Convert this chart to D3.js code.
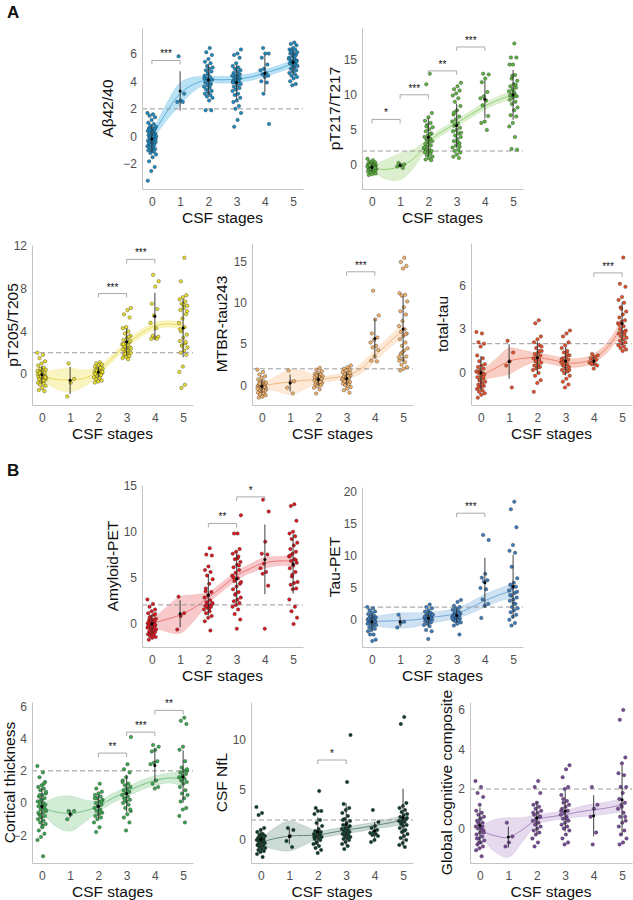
<!DOCTYPE html>
<html>
<head>
<meta charset="utf-8">
<script src="https://cdn.jsdelivr.net/npm/d3@7"></script>
<style>
  body { margin: 0; background: #fff; }
  svg { display: block; font-family: "Liberation Sans", Arial, sans-serif; }
</style>
</head>
<body>
<svg id="chart" width="633" height="900"></svg>
<script>
// Shared
const stages = [0, 1, 2, 3, 4, 5];
const smoothAt = [0, 0.5, 1, 1.5, 2, 2.5, 3, 3.5, 4, 4.5, 5];
const threshold = 2;

// Aβ42/40
const abPoints = [
  [1.7,1.6,1.5,1.4,1.2,1.0,0.9,0.8,0.7,0.6,0.6,0.5,0.4,0.4,0.3,0.3,0.2,0.2,0.1,0.1,0.0,0.0,-0.1,-0.1,-0.2,-0.2,-0.3,-0.3,-0.4,-0.4,-0.5,-0.5,-0.6,-0.6,-0.7,-0.8,-0.8,-0.9,-1.0,-1.0,-1.1,-1.2,-1.3,-1.5,-1.8,-2.2,-2.5,-3.2,0.0,0.5,-0.2,0.3],
  [5.8,3.1,2.6,2.5,2.5],
  [6.4,6.1,5.9,5.6,5.4,5.3,5.1,5.0,4.9,4.8,4.7,4.5,4.4,4.3,4.2,4.1,4.0,3.9,3.8,3.7,3.6,3.5,3.4,3.3,3.2,3.1,3.0,2.9,2.8,2.6,1.9,1.9,4.6,4.2,3.7],
  [6.3,6.0,5.9,5.7,5.3,5.1,5.0,4.9,4.8,4.7,4.6,4.5,4.4,4.4,4.3,4.2,4.2,4.1,4.0,4.0,3.9,3.8,3.7,3.6,3.5,3.4,3.3,3.1,3.0,2.8,2.6,2.5,2.2,2.0,1.7,1.2,0.7,4.5,4.3,3.9],
  [6.4,6.0,6.0,5.7,5.2,4.9,4.8,4.6,4.5,4.4,4.3,4.0,3.9,3.1,0.9],
  [6.8,6.7,6.6,6.4,6.3,6.3,6.2,6.1,6.0,6.0,5.9,5.8,5.7,5.6,5.5,5.5,5.4,5.3,5.2,5.2,5.1,5.0,4.9,4.8,4.7,4.6,4.5,4.4,4.3,4.2,4.0,3.8,3.7,5.6,5.8,6.1,5.4,5.0]
];
const abSmooth = [0.0, 1.7, 3.1, 3.8, 4.1, 4.1, 4.15, 4.3, 4.6, 4.9, 5.3];
const abBand = [0.3, 0.6, 0.8, 0.5, 0.25, 0.25, 0.25, 0.25, 0.25, 0.25, 0.25];
const abSig = [[0, 1, 5.5, "***"]];

// pT217/T217
const p217Points = [
  [0.9,0.7,0.5,0.4,0.3,0.2,0.1,0.1,0.0,0.0,-0.1,-0.1,-0.2,-0.2,-0.3,-0.3,-0.4,-0.4,-0.5,-0.5,-0.6,-0.6,-0.7,-0.7,-0.8,-0.8,-0.9,-1.0,-1.1,-1.2,-1.3,-1.4,-0.3,-0.5,-0.2,-0.6,0.0,-0.4],
  [0.3,0.1,0.0,-0.2,-0.4],
  [13.0,11.5,7.4,6.8,6.3,6.0,5.7,5.4,5.1,4.8,4.5,4.2,4.0,3.8,3.6,3.4,3.2,3.0,2.8,2.6,2.4,2.2,2.1,2.0,1.9,1.8,1.6,1.4,1.2,1.0,0.8,0.7,3.5,2.5,4.4,5.5],
  [11.7,11.2,10.8,10.6,10.2,9.9,9.5,9.0,8.4,7.8,7.2,6.9,6.5,6.2,5.9,5.6,5.3,5.0,4.8,4.5,4.2,4.0,3.7,3.4,3.1,2.8,2.5,2.2,2.0,1.8,1.5,1.2,1.0,5.8,4.6,3.3,7.5,2.6],
  [13.0,12.9,12.3,11.8,10.4,9.8,9.5,9.2,8.5,7.0,6.2,6.0,5.0],
  [17.3,15.3,15.3,14.3,14.3,12.8,12.3,12.0,11.5,11.2,11.0,10.8,10.5,10.2,10.0,9.8,9.6,9.3,9.0,8.7,8.2,7.8,7.1,6.9,6.0,5.5,4.0,2.3,2.2,10.4,9.9,11.4,12.7]
];
const p217Smooth = [-0.5, -0.6, -0.2, 1.0, 3.3, 4.8, 6.0, 7.2, 8.4, 9.3, 10.0];
const p217Band = [0.3, 1.4, 1.9, 1.3, 0.6, 0.5, 0.5, 0.5, 0.5, 0.5, 0.6];
const p217Sig = [[0, 1, 6.5, "*"], [1, 2, 10.0, "***"], [2, 3, 13.4, "**"], [3, 4, 16.8, "***"]];

// pT205/T205
const p205Points = [
  [2.0,1.8,1.5,1.2,1.0,0.8,0.6,0.5,0.4,0.3,0.2,0.1,0.0,0.0,-0.1,-0.1,-0.2,-0.2,-0.3,-0.3,-0.4,-0.4,-0.5,-0.5,-0.6,-0.7,-0.8,-0.9,-1.0,-1.1,-1.3,-1.5,-1.6,-0.2,0.3,-0.6,0.1,-0.3],
  [1.0,-0.45,-0.8,-2.1],
  [1.1,1.0,0.9,0.8,0.7,0.6,0.5,0.5,0.4,0.4,0.3,0.3,0.2,0.2,0.1,0.1,0.0,0.0,-0.1,-0.2,-0.3,-0.4,-0.5,-0.6,-0.7,-0.8,0.6,0.3,0.2],
  [6.2,6.0,5.6,5.3,4.4,4.3,4.0,3.8,3.6,3.4,3.2,3.0,2.9,2.8,2.7,2.6,2.5,2.4,2.3,2.2,2.1,2.0,1.9,1.8,1.7,1.6,1.5,1.4,2.6,3.1,2.2,2.8,3.5,1.9,2.4],
  [9.3,8.7,8.2,6.6,6.1,5.5,4.8,4.3,3.6,3.5,3.4,3.3,3.3],
  [10.9,8.7,7.4,7.2,7.0,6.8,6.6,6.4,6.2,6.0,5.6,5.2,4.8,4.4,4.0,3.7,3.4,3.1,2.9,2.7,2.5,2.2,2.0,1.8,0.7,0.2,-1.0,-1.3,5.9,6.5,4.2,3.0,2.6]
];
const p205Smooth = [-0.2, -0.5, -0.55, -0.4, 0.3, 1.5, 2.8, 3.8, 4.5, 4.7, 4.5];
const p205Band = [0.3, 0.9, 1.1, 0.8, 0.4, 0.35, 0.35, 0.35, 0.35, 0.3, 0.4];
const p205Sig = [[2, 3, 7.55, "***"], [3, 4, 10.75, "***"]];

// MTBR-tau243
const mtbrPoints = [
  [1.9,1.6,1.3,1.1,0.9,0.7,0.5,0.4,0.3,0.2,0.1,0.0,0.0,-0.1,-0.1,-0.2,-0.2,-0.3,-0.3,-0.4,-0.4,-0.5,-0.5,-0.6,-0.7,-0.8,-0.9,-1.0,-1.1,-1.2,-1.4,-1.5,-0.2,0.1,-0.4,-0.6,0.2],
  [1.8,0.5,0.4,-0.3,-1.0],
  [2.1,1.9,1.7,1.5,1.4,1.3,1.2,1.1,1.0,0.9,0.8,0.7,0.6,0.5,0.4,0.3,0.2,0.1,0.0,-0.1,-0.3,-0.5,-1.0,0.8,0.6,1.0,0.4,1.2],
  [2.4,2.2,2.0,1.9,1.8,1.6,1.4,1.3,1.2,1.1,1.0,0.9,0.8,0.7,0.6,0.5,0.4,0.3,0.2,0.1,0.0,-0.2,-0.4,-0.6,-0.9,0.9,0.7,1.1,0.5,1.5],
  [11.5,8.5,8.0,6.3,5.8,5.5,5.2,4.8,4.6,4.3,3.5,3.0,2.9],
  [15.5,15.0,14.5,14.2,11.2,11.0,10.9,10.2,9.5,9.0,8.6,7.8,7.2,6.8,6.5,6.3,6.0,5.6,5.2,4.8,4.5,4.2,3.8,3.5,3.2,3.0,2.8,2.5,2.2,2.0,1.8,6.2,4.0,3.4]
];
const mtbrSmooth = [-0.1, 0.2, 0.4, 0.6, 0.7, 0.9, 1.2, 2.0, 3.6, 5.2, 6.7];
const mtbrBand = [0.3, 0.9, 1.5, 1.1, 0.4, 0.35, 0.4, 0.6, 0.7, 0.7, 0.8];
const mtbrSig = [[3, 4, 13.8, "***"]];

// total-tau
const ttauPoints = [
  [2.8,2.7,2.1,2.0,1.8,1.2,1.0,0.8,0.6,0.5,0.4,0.3,0.2,0.1,0.0,0.0,-0.1,-0.2,-0.3,-0.4,-0.5,-0.6,-0.7,-0.8,-0.9,-1.0,-1.1,-1.2,-1.3,-1.4,-1.5,-1.7,-0.3,-0.5,0.1,-0.8,-1.0],
  [2.2,1.4,0.8,0.5,-1.0],
  [3.6,3.4,2.5,2.3,2.1,1.9,1.7,1.5,1.4,1.3,1.2,1.1,1.0,0.9,0.8,0.7,0.6,0.5,0.4,0.3,0.2,0.0,-0.2,-0.5,-0.7,-1.3,1.5,0.8,1.8,0.4],
  [2.9,2.7,2.5,2.1,1.9,1.7,1.5,1.4,1.2,1.1,1.0,0.9,0.8,0.7,0.6,0.5,0.4,0.3,0.2,0.1,0.0,-0.2,-0.4,-0.6,-0.8,-1.0,0.9,1.3,0.5,0.2],
  [1.3,1.2,1.1,1.0,0.9,0.8,0.7,0.6,0.6,0.5,0.3],
  [7.9,6.1,5.9,5.2,5.0,4.8,4.5,4.2,4.0,3.8,3.6,3.5,3.4,3.2,3.0,2.9,2.8,2.7,2.6,2.5,2.4,2.3,2.2,2.1,2.0,1.9,1.8,1.7,1.6,1.5,3.3,2.8,4.4]
];
const ttauSmooth = [-0.2, 0.3, 0.8, 1.0, 1.05, 0.9, 0.7, 0.7, 1.0, 1.8, 3.2];
const ttauBand = [0.3, 0.6, 0.9, 0.55, 0.3, 0.3, 0.3, 0.3, 0.3, 0.35, 0.45];
const ttauSig = [[4, 5, 6.85, "***"]];

// Amyloid-PET
const amyPoints = [
  [2.6,2.1,1.8,1.5,1.3,1.1,0.9,0.7,0.5,0.4,0.3,0.2,0.1,0.0,0.0,-0.1,-0.2,-0.3,-0.4,-0.5,-0.6,-0.7,-0.8,-0.9,-1.0,-1.1,-1.2,-1.3,-1.4,-1.5,-1.6,-1.8,-0.2,0.2,-0.5,-0.8,0.6,1.0,-1.0,-0.3],
  [2.9,1.1,0.8,-0.7],
  [8.2,7.5,7.4,6.2,5.8,5.6,5.2,4.8,4.3,3.8,3.4,3.0,2.8,2.5,2.3,2.1,2.0,1.9,1.8,1.7,1.5,1.3,1.1,0.8,0.6,0.2,-0.8,1.9,2.2,1.6,3.5],
  [11.8,9.8,9.8,8.1,7.8,7.6,7.3,7.0,6.7,6.4,6.1,5.8,5.5,5.2,4.9,4.6,4.3,4.0,3.7,3.4,3.1,2.8,2.6,2.4,2.2,2.0,1.8,1.5,1.0,0.4,-0.6,5.0,6.3,3.2,4.5,7.1],
  [13.5,12.2,8.9,7.6,7.5,6.5,6.0,5.6,5.4,4.1,-0.6],
  [13.0,12.8,11.2,10.0,9.8,9.5,9.2,8.8,8.5,8.1,7.8,7.6,7.3,7.0,6.8,6.6,6.3,6.0,5.6,5.1,4.5,4.4,4.2,3.8,3.7,2.6,1.8,1.3,0.6,-0.1,7.4,6.9,5.3]
];
const amySmooth = [0.0, 0.4, 0.9, 1.7, 2.8, 4.0, 5.2, 6.0, 6.6, 6.8, 6.8];
const amyBand = [0.4, 1.3, 2.0, 1.4, 0.6, 0.5, 0.5, 0.5, 0.6, 0.5, 0.6];
const amySig = [[2, 3, 10.9, "**"], [3, 4, 13.8, "*"]];

// Tau-PET
const tauPetPoints = [
  [2.0,1.8,1.5,1.3,1.1,0.9,0.7,0.5,0.4,0.3,0.2,0.1,0.0,0.0,-0.1,-0.2,-0.3,-0.4,-0.5,-0.6,-0.7,-0.8,-1.0,-1.2,-1.4,-1.6,-1.8,-2.3,-2.3,-3.1,-3.3,0.2,-0.3,0.5,-0.6],
  [0.8,-0.3,-0.5,-1.2],
  [2.4,2.0,1.8,1.5,1.3,1.1,0.9,0.8,0.7,0.6,0.5,0.4,0.3,0.2,0.1,0.0,-0.1,-0.2,-0.4,-0.6,-0.8,-1.0,-1.6,-1.8,-3.0,0.5,0.3,0.1,0.8],
  [3.1,2.8,2.2,2.0,1.8,1.6,1.4,1.2,1.0,0.9,0.8,0.7,0.6,0.5,0.4,0.3,0.2,0.1,0.0,-0.1,-0.2,-0.4,-0.6,-0.9,-2.3,0.5,0.2,1.0,0.7],
  [13.3,12.5,7.2,6.6,6.2,6.0,5.0,4.8,3.2,2.5,2.2,0.3],
  [18.5,17.3,14.5,11.7,10.8,10.5,8.3,6.5,5.8,5.5,5.2,5.0,4.6,4.2,3.8,3.5,3.2,3.0,2.5,2.0,1.8,1.5,1.2,0.8,0.5,0.0,-0.5,-0.9,4.4,2.6,3.9]
];
const tauPetSmooth = [-0.2, -0.2, -0.1, 0.0, 0.3, 0.6, 1.0, 1.9, 3.0, 3.9, 4.6];
const tauPetBand = [0.7, 1.0, 1.2, 1.1, 0.9, 0.8, 0.8, 0.9, 1.0, 1.0, 1.1];
const tauPetSig = [[3, 4, 16.7, "***"]];

// Cortical thickness
const ctxPoints = [
  [2.3,1.9,1.6,1.3,1.1,1.0,0.9,0.8,0.6,0.5,0.4,0.3,0.2,0.1,0.0,0.0,-0.1,-0.2,-0.2,-0.3,-0.4,-0.5,-0.6,-0.7,-0.8,-0.9,-1.0,-1.1,-1.2,-1.3,-1.5,-1.7,-1.9,-2.1,-2.3,-3.3,0.5,-0.4,0.2,-0.6,1.2,-0.8,0.7,-1.4],
  [-0.5,-0.5,-0.7,-1.0],
  [1.2,0.9,0.7,0.6,0.5,0.4,0.3,0.2,0.1,0.0,-0.1,-0.2,-0.3,-0.4,-0.5,-0.6,-0.7,-0.8,-0.9,-1.0,-1.2,-1.5,-1.8,0.1,-0.2,0.3,-0.5],
  [4.1,2.4,2.1,1.9,1.6,1.4,1.2,1.1,1.0,0.9,0.8,0.7,0.6,0.5,0.4,0.3,0.2,0.1,0.0,-0.1,-0.3,-0.5,-0.7,-0.9,-1.2,-1.7,1.3,0.7,0.2,-0.4],
  [3.6,3.5,3.3,3.2,2.6,2.5,2.4,1.4,1.2,1.0,0.9],
  [5.3,5.1,4.9,3.5,3.3,2.6,2.2,2.0,2.0,1.9,1.8,1.7,1.6,1.5,1.4,1.3,1.2,1.0,0.8,0.6,0.5,0.3,0.1,-0.3,-0.4,-0.8,-1.2,1.5,2.1]
];
const ctxSmooth = [-0.3, -0.55, -0.65, -0.5, -0.2, 0.3, 0.7, 1.1, 1.4, 1.55, 1.5];
const ctxBand = [0.3, 0.9, 1.1, 0.7, 0.35, 0.3, 0.3, 0.3, 0.3, 0.3, 0.45];
const ctxSig = [[2, 3, 3.1, "**"], [3, 4, 4.4, "***"], [4, 5, 5.75, "**"]];

// CSF NfL
const nflPoints = [
  [3.3,2.7,2.5,1.2,1.0,0.8,0.6,0.5,0.4,0.3,0.2,0.1,0.0,0.0,-0.1,-0.2,-0.3,-0.4,-0.5,-0.6,-0.7,-0.8,-0.9,-1.0,-1.1,-1.2,-1.4,-1.7,0.2,-0.3,0.6,-0.5,-0.1],
  [1.2,1.0,0.4,-0.1,-0.7],
  [4.9,3.2,2.9,2.9,2.6,2.0,1.7,1.4,1.1,0.9,0.8,0.7,0.6,0.5,0.4,0.3,0.2,0.1,0.0,-0.2,-0.4,-0.6,-0.8,-1.0,-1.3,0.3,0.6,-0.3],
  [10.5,5.8,3.6,3.2,3.0,2.7,2.4,2.1,1.9,1.7,1.5,1.3,1.2,1.1,1.0,0.9,0.8,0.7,0.6,0.5,0.4,0.3,0.2,0.1,0.0,-0.2,-0.4,-0.6,-0.9,1.4,0.6,2.0],
  [3.0,1.8,1.4,1.2,1.0,0.8,0.7,0.6,0.5,0.4,0.0,-0.2],
  [12.3,11.6,3.7,3.4,3.2,3.0,2.8,2.6,2.5,2.3,2.1,2.0,1.9,1.8,1.6,1.5,1.4,1.2,1.0,0.8,0.6,0.4,0.2,0.0,-0.3,-0.5,-0.7,1.7,2.2,0.9]
];
const nflSmooth = [-0.2, 0.15, 0.4, 0.45, 0.5, 0.75, 1.0, 1.2, 1.45, 1.7, 2.0];
const nflBand = [0.3, 1.1, 1.5, 1.0, 0.4, 0.35, 0.35, 0.35, 0.35, 0.4, 0.45];
const nflSig = [[2, 3, 8.0, "*"]];

// Global cognitive composite
const cogPoints = [
  [2.4,2.1,1.8,1.6,1.2,0.9,0.8,0.7,0.6,0.5,0.4,0.3,0.2,0.1,0.0,0.0,-0.1,-0.2,-0.3,-0.4,-0.5,-0.6,-0.7,-0.8,-0.9,-1.0,-1.1,-1.4,0.3,-0.2,0.5,-0.5,0.1,-0.7],
  [0.3,-0.4,-0.7,-0.9],
  [2.4,2.1,1.8,1.3,1.2,1.1,1.0,0.9,0.8,0.7,0.6,0.5,0.4,0.3,0.2,0.1,0.0,-0.1,-0.2,-0.3,-0.5,-0.7,-0.9,0.6,0.3,0.8],
  [3.2,3.0,2.6,2.1,2.0,1.7,1.4,1.3,1.2,1.1,1.0,0.9,0.8,0.7,0.6,0.5,0.4,0.3,0.2,0.1,0.0,-0.1,-0.3,-0.5,-0.7,-0.8,0.9,0.5,1.5],
  [2.1,1.2,1.0,0.6,-0.2,-0.8],
  [6.0,5.5,3.6,3.3,2.8,2.7,2.1,2.1,1.8,1.5,1.3,1.2,1.0,0.8,0.6,0.4,0.3,0.1,-0.1,-0.3,-0.5,-0.7,-0.8,0.6,1.1]
];
const cogSmooth = [-0.1, -0.35, -0.45, -0.05, 0.45, 0.6, 0.7, 0.85, 0.95, 1.05, 1.2];
const cogBand = [0.2, 0.8, 1.0, 0.6, 0.25, 0.2, 0.2, 0.25, 0.3, 0.3, 0.35];
const cogSig = [];

// Layout: plot box [left, right, top, bottom], y domain, ticks, title position
const panels = [
  { title: "Aβ42/40", points: abPoints, smooth: abSmooth, band: abBand, sig: abSig,
    box: [142, 303, 28, 189], yDomain: [-3.8, 7.85], ticks: [-2, 0, 2, 4, 6], titleX: 107,
    dot: "#1b8bc3", fill: "#a9dbf2", line: "#4aa8d8" },
  { title: "pT217/T217", points: p217Points, smooth: p217Smooth, band: p217Band, sig: p217Sig,
    box: [362, 523, 28, 189], yDomain: [-3.4, 19.5], ticks: [0, 5, 10, 15], titleX: 334,
    dot: "#5cb53f", fill: "#d3ecc3", line: "#8bcc6e" },
  { title: "pT205/T205", points: p205Points, smooth: p205Smooth, band: p205Band, sig: p205Sig,
    box: [32, 193, 245, 405], yDomain: [-2.9, 12.1], ticks: [0, 4, 8, 12], titleX: 12,
    dot: "#eadf2a", fill: "#f9f3b0", line: "#e6d84a" },
  { title: "MTBR-tau243", points: mtbrPoints, smooth: mtbrSmooth, band: mtbrBand, sig: mtbrSig,
    box: [252, 413, 243, 405], yDomain: [-2.4, 17.3], ticks: [0, 5, 10, 15], titleX: 221,
    dot: "#f3b26a", fill: "#fde3cb", line: "#f0b27a" },
  { title: "total-tau", points: ttauPoints, smooth: ttauSmooth, band: ttauBand, sig: ttauSig,
    box: [471, 632, 243, 405], yDomain: [-2.2, 8.9], ticks: [0, 3, 6], titleX: 442,
    dot: "#e8502a", fill: "#f7c2b5", line: "#ec7a5f" },
  { title: "Amyloid-PET", points: amyPoints, smooth: amySmooth, band: amyBand, sig: amySig,
    box: [142, 303, 485, 647], yDomain: [-2.6, 15.1], ticks: [0, 5, 10, 15], titleX: 112,
    dot: "#e0161e", fill: "#f6bcbe", line: "#ea6a6e" },
  { title: "Tau-PET", points: tauPetPoints, smooth: tauPetSmooth, band: tauPetBand, sig: tauPetSig,
    box: [362, 523, 487, 647], yDomain: [-4.25, 20.8], ticks: [0, 5, 10, 15, 20], titleX: 334,
    dot: "#3b7dbf", fill: "#c2dbf0", line: "#6a9fd2" },
  { title: "Cortical thickness", points: ctxPoints, smooth: ctxSmooth, band: ctxBand, sig: ctxSig,
    box: [32, 193, 702, 863], yDomain: [-3.72, 6.27], ticks: [-2, 0, 2, 4, 6], titleX: 9,
    dot: "#38a94f", fill: "#c5e6ca", line: "#6cc07d" },
  { title: "CSF NfL", points: nflPoints, smooth: nflSmooth, band: nflBand, sig: nflSig,
    box: [251, 413, 702, 863], yDomain: [-2.3, 13.8], ticks: [0, 5, 10], titleX: 221,
    dot: "#0b3b27", fill: "#bfd2ca", line: "#5a7d6e" },
  { title: "Global cognitive composite", points: cogPoints, smooth: cogSmooth, band: cogBand, sig: cogSig,
    box: [470, 632, 702, 863], yDomain: [-1.74, 6.4], ticks: [0, 2, 4, 6], titleX: 446,
    dot: "#7a4a9c", fill: "#e0d2ea", line: "#a07cbc" }
];

const svg = d3.select("#chart");

// Panel letters
svg.append("text").attr("x", 7).attr("y", 18).text("A")
  .attr("font-size", 17).attr("font-weight", "bold").attr("fill", "#111");
svg.append("text").attr("x", 7).attr("y", 476).text("B")
  .attr("font-size", 17).attr("font-weight", "bold").attr("fill", "#111");

// deterministic horizontal spread for the dots
function jitter(i) {
  return ((i * 0.6180339887) % 1) * 2 - 1;
}

panels.forEach(p => drawPanel(p));

function drawPanel(p) {
  const [x0, x1, yTop, yBot] = p.box;
  const x = d3.scaleLinear().domain([-0.35, 5.35]).range([x0, x1]);
  const y = d3.scaleLinear().domain(p.yDomain).range([yBot, yTop]);
  const g = svg.append("g");

  // Smooth band
  const area = d3.area()
    .x((d, i) => x(smoothAt[i]))
    .y0((d, i) => y(d - p.band[i]))
    .y1((d, i) => y(d + p.band[i]))
    .curve(d3.curveCatmullRom);
  g.append("path")
    .attr("d", area(p.smooth))
    .attr("fill", p.fill)
    .attr("fill-opacity", 0.8)
    .attr("stroke", p.line)
    .attr("stroke-opacity", 0.3)
    .attr("stroke-width", 0.6);

  const line = d3.line()
    .x((d, i) => x(smoothAt[i]))
    .y(d => y(d))
    .curve(d3.curveCatmullRom);
  g.append("path")
    .attr("d", line(p.smooth))
    .attr("fill", "none")
    .attr("stroke", p.line)
    .attr("stroke-width", 0.9);

  // Threshold line
  g.append("line")
    .attr("x1", x0).attr("x2", x1)
    .attr("y1", y(threshold)).attr("y2", y(threshold))
    .attr("stroke", "#9a9a9a")
    .attr("stroke-width", 1)
    .attr("stroke-dasharray", "5,3");

  // Axes
  const yAxis = g.append("g")
    .attr("transform", "translate(" + x0 + ",0)")
    .call(d3.axisLeft(y).tickValues(p.ticks).tickFormat(d3.format("d")).tickSize(0).tickPadding(5));
  const xAxis = g.append("g")
    .attr("transform", "translate(0," + yBot + ")")
    .call(d3.axisBottom(x).tickValues(stages).tickFormat(d3.format("d")).tickSize(0).tickPadding(8));
  [yAxis, xAxis].forEach(a => {
    a.select(".domain").attr("stroke", "#c4c4c4").attr("stroke-width", 1);
    a.selectAll("text")
      .attr("font-size", 12)
      .attr("fill", "#505050")
      .attr("font-family", "Liberation Sans, Arial, sans-serif");
  });

  // Points
  stages.forEach(s => {
    g.append("g")
      .selectAll("circle")
      .data(p.points[s])
      .enter()
      .append("circle")
      .attr("cx", (d, i) => x(s) + jitter(i + s * 7) * 4.5)
      .attr("cy", d => y(d))
      .attr("r", 1.75)
      .attr("fill", p.dot)
      .attr("stroke", "#222")
      .attr("stroke-width", 0.35);
  });

  // Mean ± SD bars
  stages.forEach(s => {
    const vals = p.points[s];
    const m = d3.mean(vals);
    const sd = d3.deviation(vals) || 0;
    g.append("line")
      .attr("x1", x(s)).attr("x2", x(s))
      .attr("y1", y(m - sd)).attr("y2", y(m + sd))
      .attr("stroke", "#333")
      .attr("stroke-opacity", 0.85)
      .attr("stroke-width", 1.1);
    g.append("circle")
      .attr("cx", x(s)).attr("cy", y(m))
      .attr("r", 1.5)
      .attr("fill", "#000");
  });

  // Significance brackets
  p.sig.forEach(([a, b, v, label]) => {
    const yy = y(v);
    g.append("path")
      .attr("d", "M" + x(a) + "," + (yy + 4) + "V" + yy + "H" + x(b) + "V" + (yy + 4))
      .attr("fill", "none")
      .attr("stroke", "#aaa")
      .attr("stroke-width", 1);
    g.append("text")
      .attr("x", (x(a) + x(b)) / 2)
      .attr("y", yy - 3)
      .attr("text-anchor", "middle")
      .attr("font-size", 10)
      .attr("fill", "#111")
      .text(label);
  });

  // Titles
  g.append("text")
    .attr("x", (x0 + x1) / 2)
    .attr("y", yBot + 34)
    .attr("text-anchor", "middle")
    .attr("font-size", 15.5)
    .attr("fill", "#111")
    .text("CSF stages");
  g.append("text")
    .attr("transform", "translate(" + p.titleX + "," + (yTop + yBot) / 2 + ") rotate(-90)")
    .attr("text-anchor", "middle")
    .attr("dominant-baseline", "central")
    .attr("font-size", 15.5)
    .attr("fill", "#111")
    .text(p.title);
}
</script>
</body>
</html>
